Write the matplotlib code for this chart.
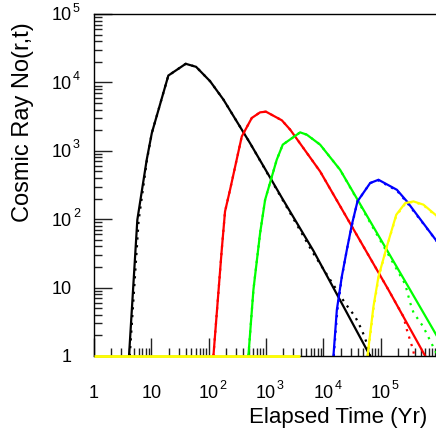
#!/usr/bin/env python3

import numpy as np
import matplotlib
matplotlib.use("Agg")
import matplotlib.pyplot as plt
from matplotlib.ticker import LogLocator, NullFormatter


# Curves: elapsed time (yr) vs cosmic ray number.
# Solid = model, dotted = companion run (deviates mostly in the tails).
black_t = [4.08, 5.70, 8.31, 10.2, 19.8, 39.8, 60.3, 106, 181, 528, 1890, 6720, 24000, 65600]
black_n = [1, 98, 741, 1820, 12600, 18700, 16900, 10400, 5600, 1290, 206, 34.5, 4.78, 1]
black_dot_t = [4.2, 6.0, 8.4, 10.2, 19.8, 39.8, 60.3, 106, 181, 528, 1890, 6500, 24000, 35900, 47000, 57400, 65600]
black_dot_n = [1, 95, 741, 1820, 12600, 18700, 16900, 10400, 5600, 1290, 200, 33, 5.9, 3.76, 2.4, 1.53, 1]

red_t = [121, 169, 193, 236, 378, 565, 789, 1000, 1890, 2640, 8790, 137000, 598000]
red_n = [1, 35.6, 130, 269, 1620, 3020, 3650, 3730, 2790, 2040, 499, 9.25, 1]
red_dot_t = [121, 169, 193, 236, 378, 565, 789, 1000, 1890, 2640, 8790, 137000, 250000, 287000, 369000, 385000]
red_dot_n = [1, 35.6, 130, 269, 1620, 3020, 3650, 3730, 2790, 2040, 499, 9.25, 3.76, 2.4, 1.22, 1]

green_t = [493, 603, 789, 965, 1540, 1960, 3940, 5150, 8790, 19600, 327000, 1000000]
green_n = [1, 9.25, 62.6, 192, 741, 1230, 1860, 1720, 1230, 528, 9.25, 1.84]
green_dot_t = [493, 603, 789, 965, 1540, 1960, 3940, 5150, 8790, 19600, 268000, 327000, 374000, 550000, 890000, 1000000]
green_dot_n = [1, 9.25, 62.6, 192, 741, 1230, 1860, 1720, 1230, 528, 11.2, 6.0, 4.3, 2.7, 1.2, 1.0]

blue_t = [15000, 17200, 21000, 25700, 31400, 39400, 65600, 91600, 192000, 287000, 1000000]
blue_n = [1, 4.72, 14.5, 35.6, 82.8, 182, 338, 377, 269, 182, 45.1]
blue_dot_t = [15200, 17500, 21000, 25700, 31400, 39400, 65600, 91600, 192000, 287000, 1000000]
blue_dot_n = [1, 4.5, 14.0, 35.6, 80, 182, 338, 370, 262, 176, 45.1]

yellow_t = [58900, 74800, 91600, 128000, 187000, 268000, 374000, 558000, 1000000]
yellow_n = [1, 5.27, 14.5, 39.8, 116, 172, 182, 163, 108]
yellow_dot_t = [59500, 75500, 92000, 128000, 187000, 268000, 374000, 558000, 1000000]
yellow_dot_n = [1, 5.0, 14.0, 39.0, 112, 168, 180, 160, 105]

# yellow run sits on the lower edge of the frame at early times
yellow_floor_t = [1, 3940]
yellow_floor_n = [1, 1]

x_ticks = [1, 10, 100, 1000, 10000, 100000]
y_ticks = [1, 10, 100, 1000, 10000, 100000]


def power_label(ax, value, axis):
    exp = int(round(np.log10(value)))
    base = "1" if exp == 0 else "10"
    sup = str(exp) if exp >= 2 else ""

    if axis == "x":
        xy = (value, 0)
        coords = ("data", "axes fraction")
        base_off, sup_off, ha = (0, -42), (11, -33), "center"
    else:
        xy = (0, value)
        coords = ("axes fraction", "data")
        base_off, sup_off, ha = (-22, -6.5), (-21, 2.5), "right"

    ax.annotate(base, xy=xy, xycoords=coords, xytext=base_off,
                textcoords="offset pixels", ha=ha, va="baseline",
                fontsize=13, annotation_clip=False)
    if sup:
        ax.annotate(sup, xy=xy, xycoords=coords, xytext=sup_off,
                    textcoords="offset pixels", ha="left", va="baseline",
                    fontsize=9, annotation_clip=False)


def main():
    plt.rcParams["font.family"] = ["Liberation Sans", "DejaVu Sans"]

    fig = plt.figure(figsize=(4.36, 4.33), dpi=100)
    ax = fig.add_axes([94 / 436, 77 / 433, 344 / 436, 342 / 433])

    ax.set_xscale("log")
    ax.set_yscale("log")
    ax.set_xlim(1, 1e6)
    ax.set_ylim(1, 1e5)

    series = [
        ("black", black_t, black_n, black_dot_t, black_dot_n),
        ("#ff0000", red_t, red_n, red_dot_t, red_dot_n),
        ("#00ff00", green_t, green_n, green_dot_t, green_dot_n),
        ("#0000ff", blue_t, blue_n, blue_dot_t, blue_dot_n),
        ("#ffff00", yellow_t, yellow_n, yellow_dot_t, yellow_dot_n),
    ]
    for color, t, n, td, nd in series:
        ax.plot(t, n, color=color, lw=1.6, solid_joinstyle="miter")
        ax.plot(td, nd, color=color, lw=1.6, linestyle=(0, (1, 2.5)))
    ax.plot(yellow_floor_t, yellow_floor_n, color="#ffff00", lw=2.0,
            clip_on=False, zorder=3, solid_capstyle="butt")

    ax.spines["right"].set_visible(False)
    for side in ["left", "bottom", "top"]:
        ax.spines[side].set_linewidth(1.0)

    ax.xaxis.set_major_locator(LogLocator(base=10, numticks=20))
    ax.yaxis.set_major_locator(LogLocator(base=10, numticks=20))
    ax.xaxis.set_minor_locator(LogLocator(base=10, subs=np.arange(2, 10), numticks=20))
    ax.yaxis.set_minor_locator(LogLocator(base=10, subs=np.arange(2, 10), numticks=20))
    ax.xaxis.set_minor_formatter(NullFormatter())
    ax.yaxis.set_minor_formatter(NullFormatter())

    ax.tick_params(which="both", direction="in", top=False, right=False,
                   labelbottom=False, labelleft=False, color="#222222")
    ax.tick_params(which="major", length=13, width=1.0)
    ax.tick_params(which="minor", length=6, width=1.0)

    for v in x_ticks:
        power_label(ax, v, "x")
    for v in y_ticks:
        power_label(ax, v, "y")

    ax.text(0.968, -0.196, "Elapsed Time (Yr)", transform=ax.transAxes,
            ha="right", va="baseline", fontsize=16)
    ax.text(-0.206, 0.977, "Cosmic Ray No(r,t)", transform=ax.transAxes,
            rotation=90, ha="center", va="top", fontsize=17)

    fig.savefig("out.png", dpi=100)
    plt.close(fig)


if __name__ == "__main__":
    main()
